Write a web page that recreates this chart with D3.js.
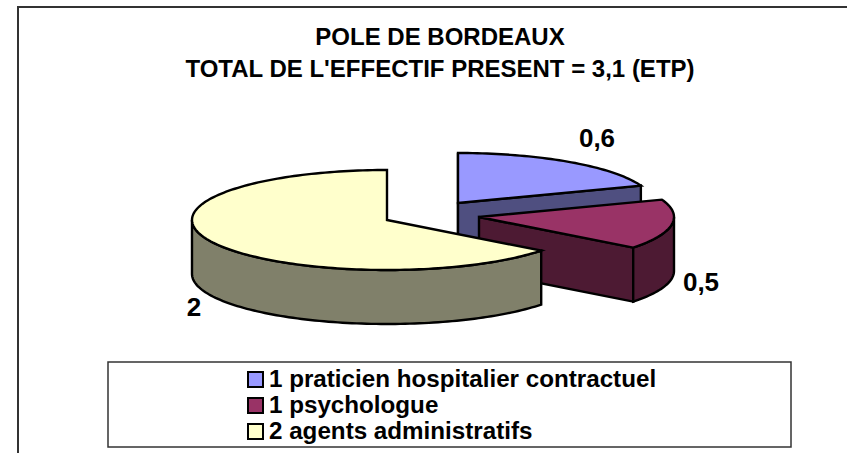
<!DOCTYPE html>
<html>
<head>
<meta charset="utf-8">
<script src="https://cdn.jsdelivr.net/npm/d3@7"></script>
<style>
html, body { margin: 0; padding: 0; background: #fff; }
svg { display: block; }
text { font-family: "Liberation Sans", Arial, sans-serif; font-weight: bold; fill: #000; }
</style>
</head>
<body>
<svg id="chart" width="847" height="453"></svg>
<script>
// data
var categories = ["1 praticien hospitalier contractuel", "1 psychologue", "2 agents administratifs"];
var values = [0.6, 0.5, 2];
var valueLabels = ["0,6", "0,5", "2"];
var titleLines = ["POLE DE BORDEAUX", "TOTAL DE L'EFFECTIF PRESENT = 3,1 (ETP)"];

var topColors = ["#9999ff", "#993366", "#ffffcc"];
var wallColors = ["#4f4f80", "#4d1a33", "#80806a"];

// layout
var rx = 195, ry = 50, depth = 54;
var centers = [{x: 458, y: 203}, {x: 479, y: 217}, {x: 387, y: 220}];
var labelPos = [{x: 597, y: 147}, {x: 701, y: 291}, {x: 194, y: 316}];

var svg = d3.select("#chart");

// only the top and left edges of the outer frame are in the picture
svg.append("path")
    .attr("d", "M18,453V7H847")
    .style("fill", "none")
    .style("stroke", "#333")
    .style("stroke-width", 2);

svg.selectAll(".title").data(titleLines).enter().append("text")
    .attr("class", "title")
    .attr("x", 440)
    .attr("y", function(d, i){ return 45 + i * 32; })
    .attr("text-anchor", "middle")
    .style("font-size", "24px")
    .text(function(d){ return d; });

var slices = d3.pie().sort(null)(values);

/*
returns a point of the flattened pie rim

c: centre of the slice
a: clockwise angle from 12 o'clock
drop: how far below the top face
*/
function rim(c, a, drop){
    return [c.x + rx * Math.sin(a), c.y - ry * Math.cos(a) + drop];
}

function arcPoints(c, a0, a1, drop){
    var n = Math.max(2, Math.ceil((a1 - a0) * 40));
    return d3.range(n + 1).map(function(i){
        return rim(c, a0 + (a1 - a0) * i / n, drop);
    });
}

var line = d3.line();

function drawPoly(points, fill){
    svg.append("path")
        .attr("d", line(points) + "Z")
        .style("fill", fill)
        .style("stroke", "#000")
        .style("stroke-width", 2.4)
        .style("stroke-linejoin", "miter");
}

slices.forEach(function(s, i){
    var c = centers[i];
    var apex = [c.x, c.y];
    var apexLow = [c.x, c.y + depth];

    // left wall of the first slice, seen through the gap
    if(i == 0) drawPoly([apex, apexLow, rim(c, s.startAngle, depth), rim(c, s.startAngle, 0)], wallColors[i]);

    // radial wall on the end of the slice
    if(s.endAngle < Math.PI) drawPoly([apex, apexLow, rim(c, s.endAngle, depth), rim(c, s.endAngle, 0)], wallColors[i]);

    // curved wall, only the front half of the rim shows
    var from = Math.max(s.startAngle, Math.PI / 2);
    var to = Math.min(s.endAngle, Math.PI * 3 / 2);
    if(to > from){
        drawPoly(arcPoints(c, from, to, 0).concat(arcPoints(c, from, to, depth).reverse()), wallColors[i]);
    }

    // top face
    drawPoly([apex].concat(arcPoints(c, s.startAngle, s.endAngle, 0)), topColors[i]);
});

svg.selectAll(".value").data(valueLabels).enter().append("text")
    .attr("class", "value")
    .attr("x", function(d, i){ return labelPos[i].x; })
    .attr("y", function(d, i){ return labelPos[i].y; })
    .attr("text-anchor", "middle")
    .style("font-size", "26px")
    .text(function(d){ return d; });

// legend
svg.append("rect")
    .attr("x", 108).attr("y", 362)
    .attr("width", 683).attr("height", 85)
    .style("fill", "#fff")
    .style("stroke", "#333")
    .style("stroke-width", 1.5);

var legendY = d3.scalePoint().domain(categories).range([387, 439]);

var items = svg.selectAll(".item").data(categories).enter().append("g")
    .attr("class", "item")
    .attr("transform", function(d){ return "translate(248," + legendY(d) + ")"; });

items.append("rect")
    .attr("x", 0).attr("y", -15)
    .attr("width", 15).attr("height", 15)
    .style("fill", function(d, i){ return topColors[i]; })
    .style("stroke", "#000")
    .style("stroke-width", 2);

items.append("text")
    .attr("x", 21).attr("y", 0)
    .style("font-size", "24.2px")
    .text(function(d){ return d; });
</script>
</body>
</html>
